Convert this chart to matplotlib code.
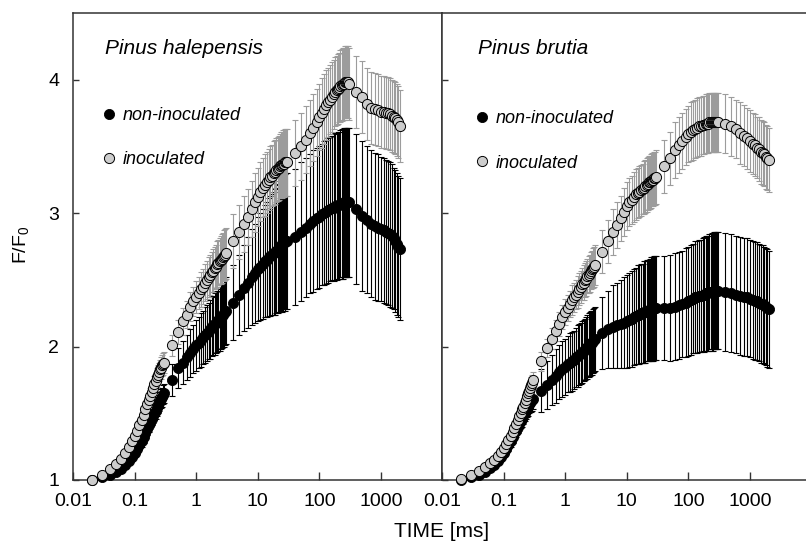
import numpy as np
import matplotlib.pyplot as plt
from matplotlib.ticker import NullLocator

plt.rcParams['font.family'] = ['Liberation Sans', 'DejaVu Sans']

# time points [ms]
time_ms = [0.02, 0.03, 0.04, 0.05, 0.06, 0.07, 0.08, 0.09, 0.10, 0.11, 0.12, 0.13, 0.14, 0.15, 0.16,
           0.17, 0.18, 0.19, 0.20, 0.21, 0.22, 0.23, 0.24, 0.25, 0.26, 0.27, 0.28, 0.29, 0.30,
           0.4, 0.5, 0.6, 0.7, 0.8, 0.9, 1.0, 1.1, 1.2, 1.3, 1.4, 1.5, 1.6, 1.7, 1.8, 1.9, 2.0,
           2.1, 2.2, 2.3, 2.4, 2.5, 2.6, 2.7, 2.8, 2.9, 3.0,
           4, 5, 6, 7, 8, 9, 10, 11, 12, 13, 14, 15, 16, 17, 18, 19, 20, 21, 22, 23, 24, 25, 26,
           27, 28, 29, 30,
           40, 50, 60, 70, 80, 90, 100, 110, 120, 130, 140, 150, 160, 170, 180, 190, 200, 210,
           220, 230, 240, 250, 260, 270, 280, 290, 300,
           400, 500, 600, 700, 800, 900, 1000, 1100, 1200, 1300, 1400, 1500, 1600, 1700, 1800,
           1900, 2000]

# Pinus halepensis
hal_non = [1.00, 1.02, 1.04, 1.06, 1.08, 1.11, 1.14, 1.17, 1.20, 1.23, 1.26, 1.29, 1.32, 1.35, 1.38,
           1.41, 1.43, 1.46, 1.48, 1.50, 1.52, 1.54, 1.56, 1.58, 1.60, 1.61, 1.62, 1.64, 1.65,
           1.75, 1.84, 1.88, 1.92, 1.95, 1.98, 2.01, 2.03, 2.05, 2.07, 2.09, 2.10, 2.12, 2.13, 2.15,
           2.16, 2.17, 2.18, 2.19, 2.20, 2.21, 2.22, 2.23, 2.24, 2.25, 2.26, 2.27,
           2.33, 2.39, 2.44, 2.48, 2.52, 2.55, 2.58, 2.60, 2.62, 2.64, 2.65, 2.67, 2.68, 2.69, 2.70,
           2.71, 2.72, 2.73, 2.74, 2.75, 2.76, 2.76, 2.77, 2.78, 2.78, 2.79, 2.79,
           2.82, 2.86, 2.89, 2.92, 2.94, 2.96, 2.97, 2.99, 3.00, 3.01, 3.02, 3.03, 3.04, 3.04, 3.05,
           3.05, 3.06, 3.06, 3.07, 3.07, 3.07, 3.08, 3.08, 3.08, 3.08, 3.08, 3.08,
           3.03, 2.98, 2.95, 2.92, 2.90, 2.89, 2.88, 2.87, 2.86, 2.85, 2.84, 2.83, 2.81, 2.79, 2.77,
           2.75, 2.73]
hal_non_sd = [0.00, 0.01, 0.01, 0.01, 0.02, 0.02, 0.02, 0.03, 0.03, 0.03, 0.03, 0.04, 0.04, 0.04, 0.04,
              0.05, 0.05, 0.05, 0.05, 0.05, 0.06, 0.06, 0.06, 0.06, 0.06, 0.07, 0.07, 0.07, 0.07,
              0.12, 0.15, 0.16, 0.17, 0.18, 0.18, 0.19, 0.19, 0.20, 0.20, 0.21, 0.21, 0.21, 0.22, 0.22,
              0.22, 0.23, 0.23, 0.23, 0.23, 0.24, 0.24, 0.24, 0.24, 0.25, 0.25, 0.25,
              0.28, 0.30, 0.32, 0.34, 0.36, 0.37, 0.39, 0.40, 0.41, 0.42, 0.43, 0.44, 0.45, 0.45, 0.46,
              0.47, 0.47, 0.48, 0.48, 0.49, 0.49, 0.50, 0.50, 0.50, 0.51, 0.51, 0.51,
              0.51, 0.52, 0.52, 0.52, 0.53, 0.53, 0.53, 0.53, 0.54, 0.54, 0.54, 0.54, 0.54, 0.55, 0.55,
              0.55, 0.55, 0.55, 0.55, 0.56, 0.56, 0.56, 0.56, 0.56, 0.56, 0.56, 0.56,
              0.56, 0.56, 0.55, 0.55, 0.55, 0.55, 0.54, 0.54, 0.54, 0.54, 0.54, 0.54, 0.53, 0.53, 0.53,
              0.53, 0.53]
hal_ino = [1.00, 1.04, 1.08, 1.12, 1.16, 1.20, 1.25, 1.29, 1.33, 1.37, 1.41, 1.45, 1.49, 1.53, 1.57,
           1.60, 1.63, 1.66, 1.69, 1.72, 1.74, 1.77, 1.79, 1.81, 1.83, 1.84, 1.86, 1.87, 1.88,
           2.01, 2.11, 2.19, 2.24, 2.30, 2.34, 2.37, 2.40, 2.43, 2.45, 2.48, 2.50, 2.52, 2.54, 2.56,
           2.57, 2.59, 2.60, 2.62, 2.63, 2.64, 2.65, 2.66, 2.67, 2.68, 2.69, 2.70,
           2.79, 2.86, 2.92, 2.97, 3.03, 3.08, 3.12, 3.16, 3.19, 3.21, 3.23, 3.25, 3.27, 3.28, 3.30,
           3.31, 3.32, 3.33, 3.34, 3.35, 3.36, 3.36, 3.37, 3.37, 3.38, 3.38, 3.38,
           3.45, 3.50, 3.55, 3.60, 3.64, 3.68, 3.72, 3.75, 3.78, 3.81, 3.83, 3.85, 3.87, 3.89, 3.91,
           3.92, 3.93, 3.94, 3.95, 3.96, 3.97, 3.97, 3.98, 3.98, 3.98, 3.98, 3.97,
           3.91, 3.87, 3.82, 3.79, 3.78, 3.77, 3.76, 3.76, 3.75, 3.75, 3.74, 3.73, 3.72, 3.71, 3.70,
           3.68, 3.65]
hal_ino_sd = [0.00, 0.01, 0.01, 0.02, 0.02, 0.02, 0.03, 0.03, 0.03, 0.04, 0.04, 0.04, 0.05, 0.05, 0.05,
              0.05, 0.06, 0.06, 0.06, 0.06, 0.07, 0.07, 0.07, 0.07, 0.07, 0.08, 0.08, 0.08, 0.08,
              0.08, 0.09, 0.10, 0.10, 0.11, 0.11, 0.12, 0.12, 0.13, 0.13, 0.14, 0.14, 0.15, 0.15, 0.15,
              0.16, 0.16, 0.16, 0.17, 0.17, 0.17, 0.18, 0.18, 0.18, 0.19, 0.19, 0.19,
              0.20, 0.20, 0.21, 0.21, 0.21, 0.22, 0.22, 0.22, 0.22, 0.23, 0.23, 0.23, 0.23, 0.23, 0.24,
              0.24, 0.24, 0.24, 0.24, 0.24, 0.25, 0.25, 0.25, 0.25, 0.25, 0.25, 0.25,
              0.25, 0.25, 0.25, 0.25, 0.25, 0.25, 0.25, 0.26, 0.26, 0.26, 0.26, 0.26, 0.26, 0.26, 0.26,
              0.26, 0.26, 0.26, 0.27, 0.27, 0.27, 0.27, 0.27, 0.27, 0.27, 0.27, 0.27,
              0.27, 0.27, 0.27, 0.27, 0.27, 0.27, 0.27, 0.27, 0.27, 0.27, 0.27, 0.27, 0.27, 0.27, 0.27,
              0.27, 0.27]

# Pinus brutia
bru_non = [1.00, 1.02, 1.04, 1.06, 1.09, 1.11, 1.14, 1.17, 1.20, 1.23, 1.26, 1.29, 1.32, 1.35, 1.37,
           1.40, 1.42, 1.44, 1.46, 1.48, 1.50, 1.52, 1.54, 1.55, 1.57, 1.58, 1.59, 1.60, 1.61,
           1.67, 1.71, 1.75, 1.78, 1.81, 1.83, 1.85, 1.87, 1.88, 1.89, 1.90, 1.92, 1.93, 1.94, 1.95,
           1.96, 1.97, 1.98, 1.99, 2.00, 2.01, 2.02, 2.03, 2.03, 2.04, 2.05, 2.06,
           2.10, 2.13, 2.15, 2.16, 2.17, 2.18, 2.19, 2.20, 2.21, 2.22, 2.23, 2.24, 2.24, 2.25, 2.25,
           2.26, 2.26, 2.27, 2.27, 2.27, 2.28, 2.28, 2.28, 2.28, 2.29, 2.29, 2.29,
           2.29, 2.29, 2.30, 2.31, 2.32, 2.33, 2.34, 2.35, 2.36, 2.37, 2.37, 2.38, 2.38, 2.39, 2.39,
           2.40, 2.40, 2.40, 2.41, 2.41, 2.41, 2.41, 2.42, 2.42, 2.42, 2.42, 2.42,
           2.41, 2.40, 2.39, 2.38, 2.37, 2.37, 2.36, 2.35, 2.34, 2.34, 2.33, 2.32, 2.32, 2.31, 2.30,
           2.29, 2.28]
bru_non_sd = [0.00, 0.01, 0.01, 0.01, 0.02, 0.02, 0.02, 0.03, 0.03, 0.03, 0.04, 0.04, 0.04, 0.04, 0.05,
              0.05, 0.05, 0.05, 0.06, 0.06, 0.06, 0.06, 0.07, 0.07, 0.07, 0.07, 0.08, 0.08, 0.08,
              0.16, 0.18, 0.19, 0.20, 0.20, 0.21, 0.21, 0.21, 0.22, 0.22, 0.22, 0.22, 0.23, 0.23, 0.23,
              0.23, 0.23, 0.23, 0.23, 0.24, 0.24, 0.24, 0.24, 0.24, 0.24, 0.24, 0.24,
              0.27, 0.29, 0.31, 0.32, 0.33, 0.34, 0.35, 0.35, 0.36, 0.36, 0.36, 0.37, 0.37, 0.37, 0.37,
              0.38, 0.38, 0.38, 0.38, 0.38, 0.38, 0.39, 0.39, 0.39, 0.39, 0.39, 0.39,
              0.39, 0.40, 0.40, 0.40, 0.40, 0.41, 0.41, 0.41, 0.41, 0.42, 0.42, 0.42, 0.42, 0.42, 0.43,
              0.43, 0.43, 0.43, 0.43, 0.43, 0.44, 0.44, 0.44, 0.44, 0.44, 0.44, 0.44,
              0.44, 0.44, 0.44, 0.44, 0.44, 0.44, 0.44, 0.44, 0.44, 0.44, 0.44, 0.44, 0.44, 0.44, 0.44,
              0.44, 0.44]
bru_ino = [1.01, 1.04, 1.07, 1.10, 1.13, 1.15, 1.18, 1.21, 1.24, 1.27, 1.30, 1.33, 1.36, 1.39, 1.42,
           1.45, 1.48, 1.50, 1.53, 1.55, 1.58, 1.60, 1.63, 1.65, 1.67, 1.69, 1.71, 1.73, 1.75,
           1.89, 1.99, 2.06, 2.12, 2.17, 2.22, 2.26, 2.29, 2.32, 2.35, 2.37, 2.39, 2.41, 2.43, 2.45,
           2.47, 2.48, 2.50, 2.51, 2.53, 2.54, 2.55, 2.57, 2.58, 2.59, 2.60, 2.61,
           2.71, 2.79, 2.86, 2.91, 2.96, 3.01, 3.05, 3.08, 3.10, 3.12, 3.14, 3.15, 3.16, 3.17, 3.18,
           3.19, 3.20, 3.21, 3.22, 3.23, 3.23, 3.24, 3.25, 3.25, 3.26, 3.26, 3.27,
           3.35, 3.41, 3.47, 3.51, 3.54, 3.57, 3.59, 3.61, 3.62, 3.63, 3.64, 3.65, 3.65, 3.66, 3.66,
           3.67, 3.67, 3.67, 3.68, 3.68, 3.68, 3.68, 3.68, 3.68, 3.68, 3.68, 3.68,
           3.67, 3.65, 3.63, 3.60, 3.58, 3.56, 3.54, 3.52, 3.51, 3.49, 3.48, 3.46, 3.45, 3.44, 3.42,
           3.41, 3.40]
bru_ino_sd = [0.00, 0.01, 0.01, 0.01, 0.02, 0.02, 0.02, 0.02, 0.03, 0.03, 0.03, 0.03, 0.04, 0.04, 0.04,
              0.04, 0.04, 0.05, 0.05, 0.05, 0.05, 0.05, 0.05, 0.06, 0.06, 0.06, 0.06, 0.06, 0.06,
              0.07, 0.07, 0.08, 0.08, 0.09, 0.09, 0.10, 0.10, 0.10, 0.11, 0.11, 0.11, 0.12, 0.12, 0.12,
              0.12, 0.13, 0.13, 0.13, 0.13, 0.14, 0.14, 0.14, 0.14, 0.15, 0.15, 0.15,
              0.16, 0.16, 0.17, 0.17, 0.17, 0.18, 0.18, 0.18, 0.18, 0.19, 0.19, 0.19, 0.19, 0.19, 0.19,
              0.20, 0.20, 0.20, 0.20, 0.20, 0.20, 0.20, 0.20, 0.20, 0.20, 0.20, 0.20,
              0.20, 0.20, 0.21, 0.21, 0.21, 0.21, 0.21, 0.22, 0.22, 0.22, 0.22, 0.22, 0.22, 0.22, 0.22,
              0.22, 0.22, 0.22, 0.22, 0.22, 0.22, 0.22, 0.22, 0.22, 0.22, 0.22, 0.22,
              0.22, 0.22, 0.22, 0.23, 0.23, 0.23, 0.23, 0.23, 0.23, 0.23, 0.24, 0.24, 0.24, 0.24, 0.24,
              0.24, 0.24]

tick_vals = [0.01, 0.1, 1, 10, 100, 1000]
tick_labels = ['0.01', '0.1', '1', '10', '100', '1000']

W, H = 806, 547
fig = plt.figure(figsize=(W / 100, H / 100), dpi=100)
ax1 = fig.add_axes([73 / W, 67 / H, 369 / W, 467 / H])
ax2 = fig.add_axes([442 / W, 67 / H, 364 / W, 467 / H])


def draw_panel(ax, name, non, non_sd, ino, ino_sd, xmax, lx, ly):
    ax.errorbar(time_ms, non, yerr=non_sd, fmt='none', ecolor='black', elinewidth=0.8,
                capsize=2.2, capthick=0.8, zorder=2)
    ax.errorbar(time_ms, ino, yerr=ino_sd, fmt='none', ecolor='#9c9c9c', elinewidth=0.8,
                capsize=2.2, capthick=0.8, zorder=3)
    ax.plot(time_ms, non, 'o', ls='none', ms=7.3, mfc='black', mec='black', mew=0.6,
            zorder=4, clip_on=False, label='non-inoculated')
    ax.plot(time_ms, ino, 'o', ls='none', ms=7.3, mfc='#cdcdcd', mec='black', mew=0.7,
            zorder=5, clip_on=False, label='inoculated')

    ax.set_xscale('log')
    ax.set_xlim(0.01, xmax)
    ax.set_ylim(1, 4.5)
    ax.set_xticks(tick_vals)
    ax.set_xticklabels(tick_labels)
    ax.xaxis.set_minor_locator(NullLocator())
    ax.set_yticks([1, 2, 3, 4])
    ax.tick_params(axis='x', direction='in', length=5.8, width=1, labelsize=14, pad=9,
                   color='#333333')
    ax.tick_params(axis='y', direction='in', length=4.3, width=1, labelsize=14, pad=10,
                   color='#333333')
    for sp in ax.spines.values():
        sp.set_linewidth(1.1)
        sp.set_color('#333333')

    ax.text(lx, 0.925, name, transform=ax.transAxes, style='italic', fontsize=15,
            va='center', ha='left')
    ax.legend(loc='upper left', bbox_to_anchor=(lx - 0.01, ly), frameon=False,
              prop={'style': 'italic', 'size': 13}, handlelength=0.8, handletextpad=0.38,
              labelspacing=1.52, borderaxespad=0, borderpad=0)


draw_panel(ax1, 'Pinus halepensis', hal_non, hal_non_sd, hal_ino, hal_ino_sd,
           0.01 * 10 ** (369 / 61.6), 0.087, 0.799)
draw_panel(ax2, 'Pinus brutia', bru_non, bru_non_sd, bru_ino, bru_ino_sd,
           0.01 * 10 ** (364 / 61.6), 0.099, 0.792)

ax2.spines['right'].set_visible(False)
ax2.tick_params(axis='y', labelleft=False)

fig.text(442 / W, 10 / H, 'TIME [ms]', ha='center', va='baseline', fontsize=15)
fig.text(22 / W, (H - 245) / H, 'F/F$_\\mathregular{0}$', rotation=90, ha='center',
         va='center', fontsize=14)

fig.savefig('out.png', dpi=100)
